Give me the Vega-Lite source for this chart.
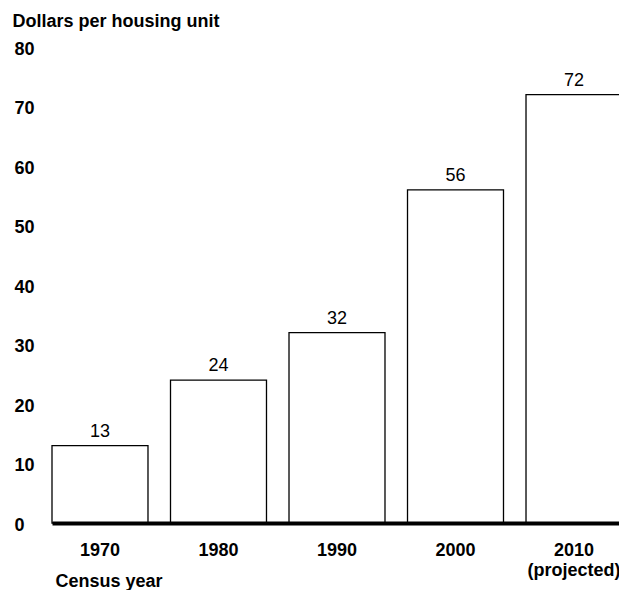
{
  "$schema": "https://vega.github.io/schema/vega-lite/v6.json",
  "autosize": "none",
  "width": 567,
  "height": 476,
  "padding": {"left": 52, "top": 47, "right": 0, "bottom": 67},
  "background": "white",
  "config": {"view": {"stroke": null}, "font": "Liberation Sans"},
  "data": {
    "values": [
      {"year": "1970", "dollars": 13},
      {"year": "1980", "dollars": 24},
      {"year": "1990", "dollars": 32},
      {"year": "2000", "dollars": 56},
      {"year": "2010", "dollars": 72}
    ]
  },
  "encoding": {
    "x": {
      "field": "year",
      "type": "ordinal",
      "scale": {"range": [0, 570], "paddingInner": 0.19, "paddingOuter": 0},
      "axis": {
        "title": "Census year",
        "labelAngle": 0,
        "labelFont": "Liberation Sans",
        "labelFontSize": 18,
        "labelFontWeight": "bold",
        "labelColor": "black",
        "ticks": false,
        "tickSize": 0,
        "labelPadding": 18,
        "labelExpr": "datum.value == '2010' ? ['2010', '(projected)'] : datum.value",
        "labelLineHeight": 20,
        "domainColor": "black",
        "domainWidth": 4,
        "zindex": 1,
        "titleFont": "Liberation Sans",
        "titleFontSize": 18,
        "titleFontWeight": "bold",
        "titleColor": "black",
        "titleAnchor": "start",
        "titleAlign": "left",
        "titleX": 3,
        "titleY": 63,
        "titleBaseline": "alphabetic"
      }
    },
    "y": {
      "field": "dollars",
      "type": "quantitative",
      "scale": {"domain": [0, 80]},
      "axis": {
        "title": "Dollars per housing unit",
        "titleAngle": 0,
        "titleAlign": "left",
        "titleX": -40,
        "titleY": -21,
        "titleBaseline": "alphabetic",
        "titleFont": "Liberation Sans",
        "titleFontSize": 18,
        "titleFontWeight": "bold",
        "titleColor": "black",
        "values": [0, 10, 20, 30, 40, 50, 60, 70, 80],
        "labelAlign": "left",
        "labelBaseline": "middle",
        "labelPadding": 38,
        "labelOffset": 2,
        "labelFont": "Liberation Sans",
        "labelFontSize": 18,
        "labelFontWeight": "bold",
        "labelColor": "black",
        "ticks": false,
        "tickSize": 0,
        "domain": false,
        "grid": false
      }
    }
  },
  "layer": [
    {"mark": {"type": "bar", "fill": "white", "stroke": "black", "strokeWidth": 1.3}},
    {
      "mark": {"type": "text", "dy": -9, "baseline": "alphabetic", "fontSize": 18, "font": "Liberation Sans", "color": "black"},
      "encoding": {"text": {"field": "dollars", "type": "quantitative"}}
    }
  ]
}
